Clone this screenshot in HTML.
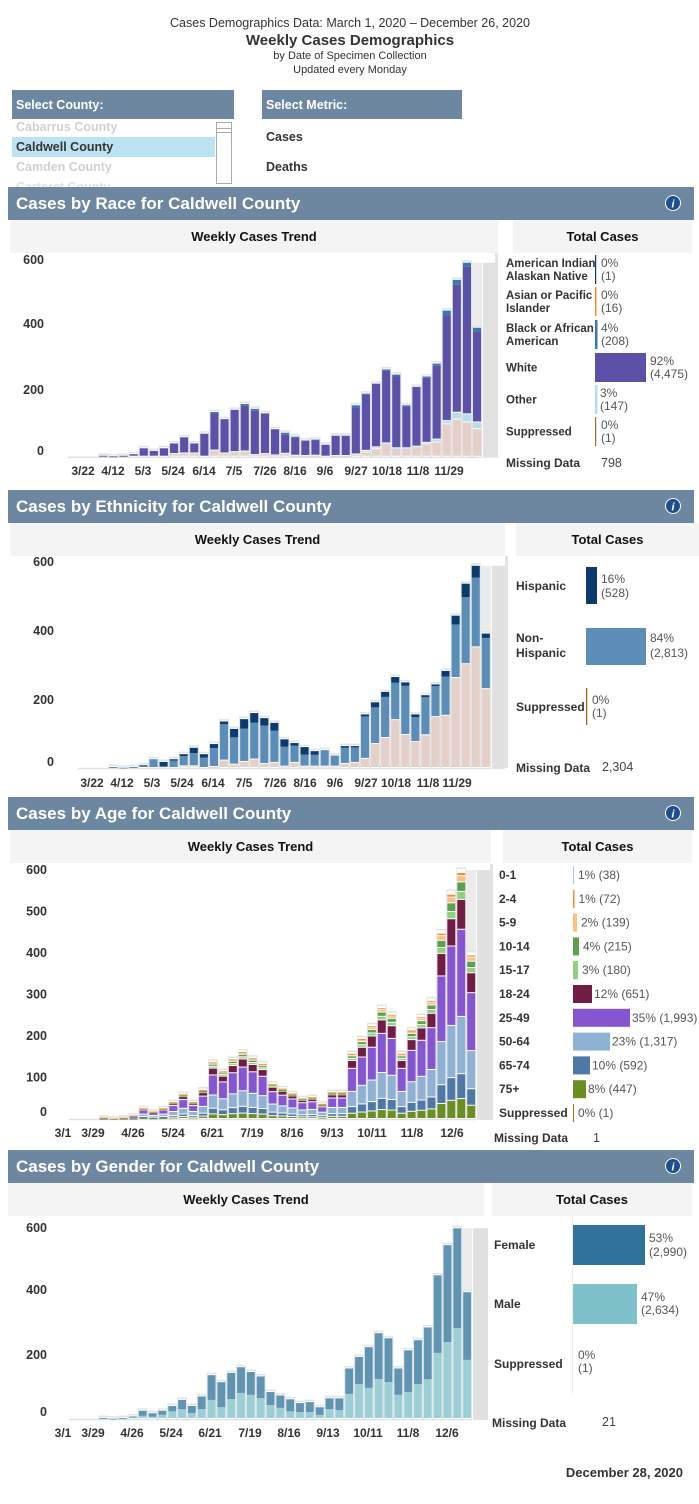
<!DOCTYPE html>
<html><head><meta charset="utf-8">
<style>
html,body{margin:0;padding:0;background:#fff;}
body{width:699px;height:1499px;overflow:hidden;position:relative;font-family:"Liberation Sans",Arial,sans-serif;}
svg text{font-family:"Liberation Sans",Arial,sans-serif;}
</style></head>
<body>
<svg id="s" width="699" height="1499" viewBox="0 0 699 1499" xmlns="http://www.w3.org/2000/svg">
<text x="350" y="27" font-size="12.5" fill="#333" text-anchor="middle">Cases Demographics Data: March 1, 2020 – December 26, 2020</text>
<text x="350" y="45" font-size="15" font-weight="bold" fill="#333" text-anchor="middle">Weekly Cases Demographics</text>
<text x="350" y="59" font-size="11" fill="#333" text-anchor="middle">by Date of Specimen Collection</text>
<text x="350" y="73" font-size="11" fill="#333" text-anchor="middle">Updated every Monday</text>
<rect x="12" y="90" width="222" height="29" fill="#6d87a0"/>
<text x="16" y="109" font-size="12.5" font-weight="bold" fill="#fff">Select County:</text>
<text x="16" y="131" font-size="12.5" font-weight="bold" fill="#d0d0d0">Cabarrus County</text>
<rect x="12" y="137" width="203" height="20" fill="#bde3f2"/>
<text x="16" y="151" font-size="12.5" font-weight="bold" fill="#333">Caldwell County</text>
<text x="16" y="171" font-size="12.5" font-weight="bold" fill="#d0d0d0">Camden County</text>
<text x="16" y="191" font-size="12.5" font-weight="bold" fill="#e0e0e0">Carteret County</text>
<rect x="216.5" y="122.5" width="15" height="61" fill="#fff" stroke="#aaa"/>
<line x1="216" y1="128.5" x2="232" y2="128.5" stroke="#aaa"/>
<line x1="216" y1="132.5" x2="232" y2="132.5" stroke="#aaa"/>
<rect x="262" y="90" width="200" height="29" fill="#6d87a0"/>
<text x="266" y="109" font-size="12.5" font-weight="bold" fill="#fff">Select Metric:</text>
<text x="266" y="141" font-size="12.5" font-weight="bold" fill="#333">Cases</text>
<text x="266" y="171" font-size="12.5" font-weight="bold" fill="#333">Deaths</text>
<g id="g"></g>
</svg>
<script>
var S=document.getElementById('g');var NS='http://www.w3.org/2000/svg';
function el(t,a,txt){var e=document.createElementNS(NS,t);for(var k in a)e.setAttribute(k,a[k]);if(txt!==undefined)e.textContent=txt;S.appendChild(e);return e;}
function rect(x,y,w,h,f){if(h<=0||w<=0)return;el('rect',{x:x,y:y,width:w,height:h,fill:f});}
function text(x,y,s,o){o=o||{};var a={x:x,y:y,'font-size':o.fs||12,fill:o.c||'#333'};if(o.b)a['font-weight']='bold';if(o.a)a['text-anchor']=o.a;el('text',a,s);}
function header(y,title){
 rect(8,y,686,33,'#6d87a0');
 text(16,y+22,title,{fs:17,b:1,c:'#fff'});
 el('circle',{cx:673,cy:y+16,r:7.5,fill:'#1d4f8f',stroke:'#fff','stroke-width':1});
 el('text',{x:673,y:y+20.5,'font-size':11,'font-weight':'bold','font-style':'italic',fill:'#fff','text-anchor':'middle'},'i');
}
function sub(y,x1,x2,x3,x4){
 rect(x1,y,x2-x1,33,'#f4f4f4');text((x1+x2)/2,y+21,'Weekly Cases Trend',{fs:13,b:1,a:'middle',c:'#111'});
 rect(x3,y,x4-x3,33,'#f4f4f4');text((x3+x4)/2,y+21,'Total Cases',{fs:13,b:1,a:'middle',c:'#111'});
}
var T=[0,0,0,3,1,3,8,26,18,26,41,60,41,71,138,116,145,163,148,134,85,74,62,50,53,37,65,65,159,195,226,270,254,159,216,248,288,452,547,600,399];
function chart(c){
 var top=c.base-600*c.ppc, n=41;
 var sx=c.x0+40*c.w;
 rect(sx,top,c.w,c.base-top,'#ebebeb');
 rect(sx+c.w+1,top,c.shw,c.base-top+1,'#e1e1e1');
 el('line',{x1:c.x0,y1:c.base+0.5,x2:sx+c.w,y2:c.base+0.5,stroke:'#e0e0e0','stroke-width':1.5});
 for(var i=0;i<n;i++){
  var tot=T[i]; if(tot<=0)continue;
  var x=c.x0+i*c.w, h=tot*c.ppc;
  rect(x,c.base-h-2.5,c.w,h+2.5,'#e3e3e3');
  rect(x+1,c.base-h-1,c.w-2,h+1,'#fff');
  var segs=c.stack(i,tot), y=c.base;
  for(var j=0;j<segs.length;j++){
   var sh=segs[j][0]*c.ppc; if(sh<=0)continue;
   var hh=sh-(j<segs.length-1?1:0); if(sh<1.2)hh=sh;
   rect(x+1,y-sh,c.w-2,Math.max(hh,0.8),segs[j][1]); y-=sh;
  }
 }
 c.yl.forEach(function(v){text(c.yx,v[1]+4,String(v[0]),{fs:12.5,b:1,a:'end'});});
 c.xl.forEach(function(v){text(v[1],c.xly,v[0],{fs:12,b:1,a:'middle'});});
}
header(187,'Cases by Race for Caldwell County');
sub(220,10,498,513,692);
var RP={10:8,11:10,12:10,14:19,15:10,16:14,17:16,18:5,19:8,20:4,21:7,22:3,23:2,24:3,26:2,27:2,28:7,29:13,30:23,31:38,32:24,33:24,34:28,35:38,36:44,37:100,38:115,39:106,40:85};
var RO={21:2,29:5,30:6,31:3,32:2,33:2,34:3,35:5,36:9,37:10,38:21,39:25,40:21};
var RB={14:3,17:4,18:6,21:6,22:4,24:3,28:7,29:4,31:4,32:6,33:4,35:4,36:7,37:14,38:15,39:13,40:12};
chart({x0:68,w:10.1,base:456.7,ppc:0.3233,shw:15,yx:44,xly:475,
 yl:[[600,260],[400,324],[200,390],[0,451]],
 xl:[['3/22',83],['4/12',113],['5/3',143],['5/24',173],['6/14',204],['7/5',234],['7/26',265],['8/16',295],['9/6',325],['9/27',356],['10/18',387],['11/8',418],['11/29',449]],
 stack:function(i,t){var p=RP[i]||0,o=RO[i]||0,b=RB[i]||0;return [[p,'#e4cfc9'],[o,'#b7dcf2'],[t-p-o-b,'#5b51a8'],[b,'#3a78ad']];}});
rect(495,253,3,200,'#e3e3e3');
function rrow(y1,y2,lab,bw,col,p,n,tx){
 if(lab[1]){text(506,y1+4,lab[0],{fs:11.5,b:1});text(506,y1+17,lab[1],{fs:11.5,b:1});}
 else text(506,(y1+y2)/2+4,lab[0],{fs:11.5,b:1});
 rect(595,y1-8,bw,y2-y1+16,col);
 text(tx,y1+4,p,{fs:12,c:'#555'});text(tx,y1+17,n,{fs:12,c:'#555'});
}
rrow(263,276,['American Indian','Alaskan Native'],1.2,'#0b3a6e','0%','(1)',601);
rrow(295,308,['Asian or Pacific','Islander'],1.5,'#f28e2b','0%','(16)',601);
rrow(328,341,['Black or African','American'],2.5,'#3a78ad','4%','(208)',601);
rrow(361,374,['White'],51,'#5b51a8','92%','(4,475)',650);
rrow(393,406,['Other'],2.5,'#b7dcf2','3%','(147)',600);
rrow(425,438,['Suppressed'],1.2,'#9b6a12','0%','(1)',601);
text(506,467,'Missing Data',{fs:12,b:1});text(601,467,'798',{fs:12.5,c:'#444'});
header(490,'Cases by Ethnicity for Caldwell County');
sub(523,10,505,516,699);
var EP={10:5,11:5,13:3,14:22,15:10,16:18,17:25,18:12,19:15,20:4,21:15,22:4,23:4,24:4,25:4,26:12,27:15,28:27,29:71,30:89,31:142,32:98,33:77,34:97,35:151,36:155,37:267,38:308,39:358,40:234};
var EH={6:2,8:13,9:4,10:6,11:16,12:10,13:12,14:8,15:25,16:28,17:28,18:22,19:23,20:22,21:8,22:22,23:11,26:5,27:4,28:6,29:15,30:15,31:17,32:10,33:8,34:6,35:5,36:17,37:26,38:40,39:35,40:13};
chart({x0:78,w:10.07,base:768,ppc:0.337,shw:13,yx:54,xly:787,
 yl:[[600,562],[400,631],[200,700],[0,762]],
 xl:[['3/22',92],['4/12',122],['5/3',152],['5/24',182],['6/14',213],['7/5',244],['7/26',275],['8/16',305],['9/6',335],['9/27',366],['10/18',396],['11/8',428],['11/29',457]],
 stack:function(i,t){var p=EP[i]||0,h=EH[i]||0;if(p+h>t)h=Math.max(0,t-p);return [[p,'#e4cfc9'],[t-p-h,'#5b8db9'],[h,'#0a3a6e']];}});
rect(505,556,3,212,'#e3e3e3');
text(516,590,'Hispanic',{fs:12,b:1});
rect(586,567,11,37,'#0a3a6e');text(601,583,'16%',{fs:12,c:'#555'});text(601,597,'(528)',{fs:12,c:'#555'});
text(516,642,'Non-',{fs:12,b:1});text(516,657,'Hispanic',{fs:12,b:1});
rect(586,628,60,37,'#5b8db9');text(650,642,'84%',{fs:12,c:'#555'});text(650,657,'(2,813)',{fs:12,c:'#555'});
text(516,711,'Suppressed',{fs:12,b:1});
rect(586,688,1.3,37,'#9b6a12');text(592,704,'0%',{fs:12,c:'#555'});text(592,717,'(1)',{fs:12,c:'#555'});
text(516,772,'Missing Data',{fs:12,b:1});text(602,771,'2,304',{fs:12.5,c:'#444'});
header(797,'Cases by Age for Caldwell County');
sub(830,10,491,503,692);
var AP=[[.08,'#6b8e23'],[.10,'#4e79a7'],[.23,'#8fb1d4'],[.35,'#8555d2'],[.12,'#711c45'],[.032,'#8fd17f'],[.038,'#59a14f'],[.025,'#ffbe7d'],[.013,'#f28e2b'],[.0,'#a0cbe8']];
chart({x0:69,w:9.93,base:1119,ppc:0.415,shw:15,yx:47,xly:1137,
 yl:[[600,870],[500,911.5],[400,953],[300,994.5],[200,1036],[100,1077.5],[0,1112]],
 xl:[['3/1',63],['3/29',93],['4/26',133],['5/24',173],['6/21',212],['7/19',252],['8/16',292],['9/13',332],['10/11',372],['11/8',412],['12/6',452]],
 stack:function(i,t){var r=[];AP.forEach(function(a){r.push([t*a[0],a[1]]);});return r;}});
rect(490,864,3,256,'#e3e3e3');
var AR=[['0-1',1,'#a0cbe8','1% (38)'],['2-4',1.5,'#f28e2b','1% (72)'],['5-9',4,'#ffbe7d','2% (139)'],['10-14',6,'#59a14f','4% (215)'],['15-17',5,'#8fd17f','3% (180)'],['18-24',19,'#711c45','12% (651)'],['25-49',57,'#8555d2','35% (1,993)'],['50-64',37,'#8fb1d4','23% (1,317)'],['65-74',17,'#4e79a7','10% (592)'],['75+',13,'#6b8e23','8% (447)'],['Suppressed',1,'#9b6a12','0% (1)']];
AR.forEach(function(r,k){var y=875+k*23.8;text(499,y+4,r[0],{fs:12,b:1});rect(573,y-9,r[1],18,r[2]);text(573+r[1]+(r[1]>10?2:4),y+4,r[3],{fs:12,c:'#555'});});
text(494,1142,'Missing Data',{fs:12,b:1});text(593,1142,'1',{fs:12.5,c:'#444'});
header(1150,'Cases by Gender for Caldwell County');
sub(1183,8,484,492,692);
var M=[0,0,0,0,0,2,5,10,7,13,24,31,19,31,60,37,63,82,76,66,44,35,24,22,22,13,31,28,79,110,98,126,116,76,85,110,125,208,242,286,186];
chart({x0:69,w:9.83,base:1419,ppc:0.3178,shw:15,yx:47,xly:1437,
 yl:[[600,1228],[400,1290],[200,1355],[0,1412]],
 xl:[['3/1',63],['3/29',93],['4/26',132],['5/24',171],['6/21',210],['7/19',250],['8/16',289],['9/13',328],['10/11',368],['11/8',408],['12/6',447]],
 stack:function(i,t){return [[M[i],'#9bcfd6'],[t-M[i],'#5f95b3']];}});
el('line',{x1:572.5,y1:1216,x2:572.5,y2:1394,stroke:'#eee'});
text(494,1249,'Female',{fs:12,b:1});rect(573,1225,72,40,'#31729a');text(649,1242,'53%',{fs:12,c:'#555'});text(649,1256,'(2,990)',{fs:12,c:'#555'});
text(494,1308,'Male',{fs:12,b:1});rect(573,1284,64,40,'#7fc1c9');text(641,1301,'47%',{fs:12,c:'#555'});text(641,1314,'(2,634)',{fs:12,c:'#555'});
text(494,1368,'Suppressed',{fs:12,b:1});text(578,1359,'0%',{fs:12,c:'#555'});text(578,1372,'(1)',{fs:12,c:'#555'});
text(492,1427,'Missing Data',{fs:12,b:1});text(602,1426,'21',{fs:12.5,c:'#444'});
text(683,1477,'December 28, 2020',{fs:13,b:1,a:'end'});
</script>
</body></html>
